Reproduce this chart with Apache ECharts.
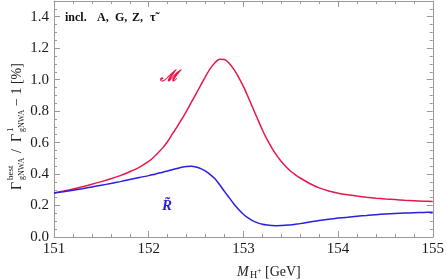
<!DOCTYPE html>
<html><head><meta charset="utf-8">
<script src="https://cdn.jsdelivr.net/npm/echarts@6/dist/echarts.min.js"></script>
<style>html,body{margin:0;padding:0;background:#fff}#c{width:447px;height:279px}</style>
</head><body><div id="c"></div>
<script>
const massGeV = [151.0, 151.1, 151.2, 151.3, 151.4, 151.5, 151.6, 151.7, 151.8, 151.9,
  152.0, 152.05, 152.1, 152.15, 152.2, 152.25, 152.3, 152.35, 152.4, 152.45, 152.5, 152.55, 152.6, 152.65, 152.7, 152.75, 152.8, 152.85, 152.9, 152.95,
  153.0, 153.05, 153.1, 153.15, 153.2, 153.25, 153.3, 153.35, 153.4, 153.45, 153.5, 153.55, 153.6,
  153.7, 153.8, 153.9, 154.0, 154.1, 154.2, 154.3, 154.4, 154.5, 154.6, 154.7, 154.8, 154.9, 155.0];
const seriesM = [0.28, 0.292, 0.305, 0.32, 0.335, 0.352, 0.37, 0.39, 0.415, 0.443,
  0.48, 0.505, 0.535, 0.568, 0.607, 0.655, 0.70, 0.75, 0.80, 0.855, 0.91, 0.965, 1.02, 1.07, 1.108, 1.13, 1.128, 1.105, 1.065, 1.015,
  0.957, 0.89, 0.82, 0.75, 0.682, 0.62, 0.567, 0.52, 0.48, 0.447, 0.418, 0.395, 0.375,
  0.34, 0.312, 0.292, 0.278, 0.268, 0.26, 0.253, 0.247, 0.242, 0.238, 0.234, 0.231, 0.228, 0.225];
const seriesR = [0.28, 0.288, 0.297, 0.307, 0.318, 0.329, 0.34, 0.352, 0.365, 0.378,
  0.39, 0.397, 0.405, 0.412, 0.42, 0.428, 0.436, 0.443, 0.448, 0.45, 0.445, 0.435, 0.418, 0.397, 0.37, 0.332, 0.29, 0.25, 0.21, 0.175,
  0.145, 0.121, 0.103, 0.09, 0.081, 0.076, 0.073, 0.072, 0.073, 0.075, 0.077, 0.081, 0.085,
  0.095, 0.105, 0.113, 0.12, 0.126, 0.132, 0.137, 0.142, 0.146, 0.149, 0.152, 0.154, 0.156, 0.158];
const xTicks = [151, 152, 153, 154, 155];
const yTicks = [0.0, 0.2, 0.4, 0.6, 0.8, 1.0, 1.2, 1.4];
const noteTokens = ['incl.', 'A,', 'G,', 'Z,', 'τ̃'];

const serif = 'Liberation Serif';
const frame = '#999';
const chart = echarts.init(document.getElementById('c'), null, {renderer: 'canvas'});
function axisCommon(showLabel, isX) {
  return {
    axisLine: {show: true, onZero: false, lineStyle: {color: frame, width: 1}},
    axisTick: {show: true, inside: true, length: 6, lineStyle: {color: frame}},
    minorTick: {show: true, splitNumber: isX ? 5 : 4, length: 3, lineStyle: {color: frame}},
    splitLine: {show: false},
    axisLabel: {show: showLabel, fontFamily: serif, fontSize: 15, color: '#1a1a1a', margin: 5,
      showMaxLabel: isX ? true : false,
      formatter: isX ? (v => String(v)) : (v => v.toFixed(1))}
  };
}
const notePos = [65, 97, 115, 132, 150];
const option = {
  animation: false,
  textStyle: {fontFamily: serif},
  grid: {left: 54, right: 11, top: 1, bottom: 42},
  xAxis: [
    Object.assign({type: 'value', position: 'bottom', min: xTicks[0], max: xTicks[xTicks.length-1], interval: 1}, axisCommon(true, true)),
    Object.assign({type: 'value', position: 'top', min: xTicks[0], max: xTicks[xTicks.length-1], interval: 1}, axisCommon(false, true))
  ],
  yAxis: [
    Object.assign({type: 'value', position: 'left', min: yTicks[0], max: 1.5, interval: 0.2}, axisCommon(true, false)),
    Object.assign({type: 'value', position: 'right', min: yTicks[0], max: 1.5, interval: 0.2}, axisCommon(false, false))
  ],
  series: [
    {type: 'line', name: 'M', data: massGeV.map((x, i) => [x, seriesM[i]]), smooth: 0.3, symbol: 'none',
     lineStyle: {color: '#e8174a', width: 1.5}},
    {type: 'line', name: 'R', data: massGeV.map((x, i) => [x, seriesR[i]]), smooth: 0.3, symbol: 'none',
     lineStyle: {color: '#2a1fdc', width: 1.5}}
  ],
  graphic: [
    {type: 'group', x: 0, y: 18, children: noteTokens.map((t, i) => ({
      type: 'text', x: notePos[i], y: 0,
      style: {text: t, font: 'bold 12px "Liberation Serif"', fill: '#111', align: 'left', verticalAlign: 'middle'}}))},
    {type: 'text', x: 169, y: 77, style: {text: 'ℳ', font: 'bold italic 16px "DejaVu Serif"', fill: '#e8174a', align: 'center', verticalAlign: 'middle'}},
    {type: 'text', x: 167, y: 206, style: {text: 'R̃', font: 'bold italic 15px "Liberation Serif"', fill: '#2a1fdc', align: 'center', verticalAlign: 'middle'}},
    {type: 'group', x: 237, y: 272, children: [
      {type: 'text', x: 0, y: 0, style: {text: 'M', font: 'italic 14px "Liberation Serif"', fill: '#222', verticalAlign: 'middle'}},
      {type: 'text', x: 13, y: 3, style: {text: 'H', font: '10px "Liberation Serif"', fill: '#222', verticalAlign: 'middle'}},
      {type: 'text', x: 20, y: -1, style: {text: '+', font: '8px "Liberation Serif"', fill: '#222', verticalAlign: 'middle'}},
      {type: 'text', x: 28, y: 0, style: {text: '[GeV]', font: '14px "Liberation Serif"', fill: '#222', verticalAlign: 'middle'}}
    ]},
    {type: 'group', x: 17, y: 190, rotation: Math.PI / 2, children: [
      {type: 'text', x: 0, y: 0, style: {text: 'Γ', font: '14px "Liberation Serif"', fill: '#222', verticalAlign: 'middle'}},
      {type: 'text', x: 10, y: -6, style: {text: 'best', font: '9px "Liberation Serif"', fill: '#222', verticalAlign: 'middle'}},
      {type: 'text', x: 10, y: 5, style: {text: 'gNWA', font: '8px "Liberation Serif"', fill: '#222', verticalAlign: 'middle'}},
      {type: 'text', x: 37, y: 0, style: {text: '/', font: '14px "Liberation Serif"', fill: '#222', verticalAlign: 'middle'}},
      {type: 'text', x: 48, y: 0, style: {text: 'Γ', font: '14px "Liberation Serif"', fill: '#222', verticalAlign: 'middle'}},
      {type: 'text', x: 58, y: -6, style: {text: '1', font: '9px "Liberation Serif"', fill: '#222', verticalAlign: 'middle'}},
      {type: 'text', x: 58, y: 5, style: {text: 'gNWA', font: '8px "Liberation Serif"', fill: '#222', verticalAlign: 'middle'}},
      {type: 'text', x: 84, y: 0, style: {text: '− 1 [%]', font: '14px "Liberation Serif"', fill: '#222', verticalAlign: 'middle'}}
    ]}
  ]
};
chart.setOption(option);
</script></body></html>
